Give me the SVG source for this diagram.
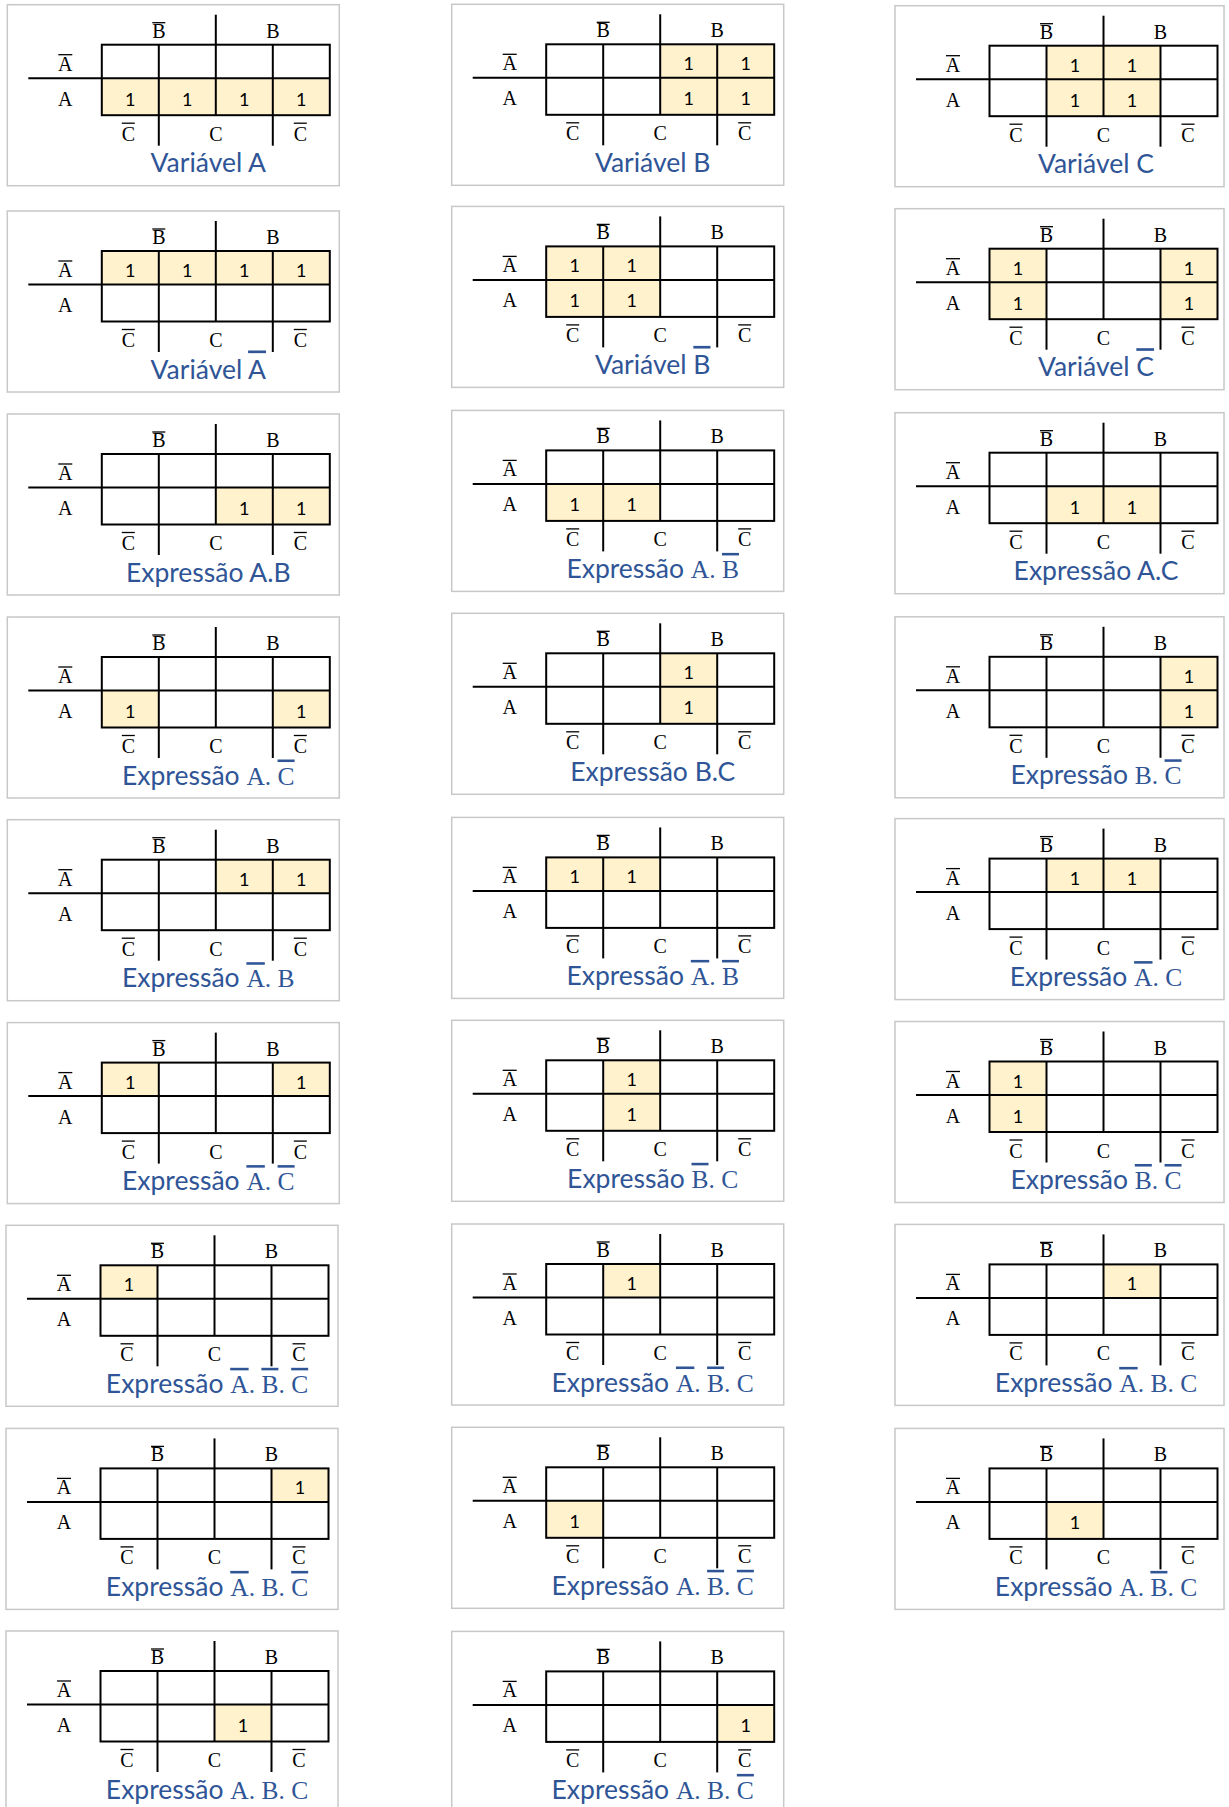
<svg xmlns="http://www.w3.org/2000/svg" xmlns:xlink="http://www.w3.org/1999/xlink" width="1229" height="1807" viewBox="0 0 1229 1807">
<style>
.frame{fill:#fff;stroke:#C8C8C8;stroke-width:1.5}
.hl{fill:#FFF2CC}
.g line,.g rect{stroke:#000;stroke-width:2;fill:none}
.g .bar{stroke-width:1.3}
.lbl{font-family:"Liberation Serif",serif;font-size:20px;text-anchor:middle;fill:#000}
.one{font-family:Lato,"Liberation Sans",sans-serif;font-size:18px;text-anchor:middle;fill:#000}
.cap{font-family:Lato,"Liberation Sans",sans-serif;font-size:26.5px;text-anchor:middle;fill:#2F5597}
.m{font-family:"Liberation Serif",serif;font-size:25.5px}
.ov{text-decoration:overline}
</style>
<defs>
<g id="grid" class="g">
<rect x="94.5" y="40" width="228" height="70.5"/>
<line x1="21" y1="73.5" x2="322.5" y2="73.5"/>
<line x1="151.5" y1="40" x2="151.5" y2="141"/>
<line x1="208.5" y1="10" x2="208.5" y2="110.5"/>
<line x1="265.5" y1="40" x2="265.5" y2="141"/>
<line class="bar" x1="145" y1="18" x2="158" y2="18"/>
<line class="bar" x1="51" y1="50" x2="65" y2="50"/>
<line class="bar" x1="114.5" y1="118.5" x2="127.5" y2="118.5"/>
<line class="bar" x1="286.5" y1="118.5" x2="299.5" y2="118.5"/>
</g>
</defs>

<g id="r0c0" transform="translate(7.3,4.7)">
<rect class="frame" width="332" height="181"/>
<rect class="hl" x="94.5" y="73.5" width="228" height="37"/>
<use href="#grid"/>
<text class="lbl" x="151.5" y="33">B</text><text class="lbl" x="265.5" y="33">B</text><text class="lbl" x="58" y="66">A</text><text class="lbl" x="58" y="101">A</text><text class="lbl" x="121" y="136">C</text><text class="lbl" x="208.5" y="136">C</text><text class="lbl" x="293" y="136">C</text>
<text class="one" x="123" y="101">1</text><text class="one" x="180" y="101">1</text><text class="one" x="237" y="101">1</text><text class="one" x="294" y="101">1</text>
<text class="cap" x="201" y="167.5">Variável A</text>
</g>

<g id="r0c1" transform="translate(451.7,4.3)">
<rect class="frame" width="332" height="181"/>
<rect class="hl" x="208.5" y="40" width="114" height="70.5"/>
<use href="#grid"/>
<text class="lbl" x="151.5" y="33">B</text><text class="lbl" x="265.5" y="33">B</text><text class="lbl" x="58" y="66">A</text><text class="lbl" x="58" y="101">A</text><text class="lbl" x="121" y="136">C</text><text class="lbl" x="208.5" y="136">C</text><text class="lbl" x="293" y="136">C</text>
<text class="one" x="237" y="66">1</text><text class="one" x="294" y="66">1</text><text class="one" x="237" y="101">1</text><text class="one" x="294" y="101">1</text>
<text class="cap" x="201" y="167.5">Variável B</text>
</g>

<g id="r0c2" transform="translate(895,5.7)">
<rect class="frame" width="329" height="181"/>
<rect class="hl" x="151.5" y="40" width="114" height="70.5"/>
<use href="#grid"/>
<text class="lbl" x="151.5" y="33">B</text><text class="lbl" x="265.5" y="33">B</text><text class="lbl" x="58" y="66">A</text><text class="lbl" x="58" y="101">A</text><text class="lbl" x="121" y="136">C</text><text class="lbl" x="208.5" y="136">C</text><text class="lbl" x="293" y="136">C</text>
<text class="one" x="180" y="66">1</text><text class="one" x="237" y="66">1</text><text class="one" x="180" y="101">1</text><text class="one" x="237" y="101">1</text>
<text class="cap" x="201" y="167.5">Variável C</text>
</g>

<g id="r1c0" transform="translate(7.3,211)">
<rect class="frame" width="332" height="181"/>
<rect class="hl" x="94.5" y="40" width="228" height="33.5"/>
<use href="#grid"/>
<text class="lbl" x="151.5" y="33">B</text><text class="lbl" x="265.5" y="33">B</text><text class="lbl" x="58" y="66">A</text><text class="lbl" x="58" y="101">A</text><text class="lbl" x="121" y="136">C</text><text class="lbl" x="208.5" y="136">C</text><text class="lbl" x="293" y="136">C</text>
<text class="one" x="123" y="66">1</text><text class="one" x="180" y="66">1</text><text class="one" x="237" y="66">1</text><text class="one" x="294" y="66">1</text>
<text class="cap" x="201" y="167.5">Variável <tspan class="ov">A</tspan></text>
</g>

<g id="r1c1" transform="translate(451.7,206.4)">
<rect class="frame" width="332" height="181"/>
<rect class="hl" x="94.5" y="40" width="114" height="70.5"/>
<use href="#grid"/>
<text class="lbl" x="151.5" y="33">B</text><text class="lbl" x="265.5" y="33">B</text><text class="lbl" x="58" y="66">A</text><text class="lbl" x="58" y="101">A</text><text class="lbl" x="121" y="136">C</text><text class="lbl" x="208.5" y="136">C</text><text class="lbl" x="293" y="136">C</text>
<text class="one" x="123" y="66">1</text><text class="one" x="180" y="66">1</text><text class="one" x="123" y="101">1</text><text class="one" x="180" y="101">1</text>
<text class="cap" x="201" y="167.5">Variável <tspan class="ov">B</tspan></text>
</g>

<g id="r1c2" transform="translate(895,208.7)">
<rect class="frame" width="329" height="181"/>
<rect class="hl" x="94.5" y="40" width="57" height="70.5"/>
<rect class="hl" x="265.5" y="40" width="57" height="70.5"/>
<use href="#grid"/>
<text class="lbl" x="151.5" y="33">B</text><text class="lbl" x="265.5" y="33">B</text><text class="lbl" x="58" y="66">A</text><text class="lbl" x="58" y="101">A</text><text class="lbl" x="121" y="136">C</text><text class="lbl" x="208.5" y="136">C</text><text class="lbl" x="293" y="136">C</text>
<text class="one" x="123" y="66">1</text><text class="one" x="294" y="66">1</text><text class="one" x="123" y="101">1</text><text class="one" x="294" y="101">1</text>
<text class="cap" x="201" y="167.5">Variável <tspan class="ov">C</tspan></text>
</g>

<g id="r2c0" transform="translate(7.3,414)">
<rect class="frame" width="332" height="181"/>
<rect class="hl" x="208.5" y="73.5" width="114" height="37"/>
<use href="#grid"/>
<text class="lbl" x="151.5" y="33">B</text><text class="lbl" x="265.5" y="33">B</text><text class="lbl" x="58" y="66">A</text><text class="lbl" x="58" y="101">A</text><text class="lbl" x="121" y="136">C</text><text class="lbl" x="208.5" y="136">C</text><text class="lbl" x="293" y="136">C</text>
<text class="one" x="237" y="101">1</text><text class="one" x="294" y="101">1</text>
<text class="cap" x="201" y="167.5">Expressão A.B</text>
</g>

<g id="r2c1" transform="translate(451.7,410.4)">
<rect class="frame" width="332" height="181"/>
<rect class="hl" x="94.5" y="73.5" width="114" height="37"/>
<use href="#grid"/>
<text class="lbl" x="151.5" y="33">B</text><text class="lbl" x="265.5" y="33">B</text><text class="lbl" x="58" y="66">A</text><text class="lbl" x="58" y="101">A</text><text class="lbl" x="121" y="136">C</text><text class="lbl" x="208.5" y="136">C</text><text class="lbl" x="293" y="136">C</text>
<text class="one" x="123" y="101">1</text><text class="one" x="180" y="101">1</text>
<text class="cap" x="201" y="167.5">Expressão <tspan class="m">A. <tspan class="ov">B</tspan></tspan></text>
</g>

<g id="r2c2" transform="translate(895,412.7)">
<rect class="frame" width="329" height="181"/>
<rect class="hl" x="151.5" y="73.5" width="114" height="37"/>
<use href="#grid"/>
<text class="lbl" x="151.5" y="33">B</text><text class="lbl" x="265.5" y="33">B</text><text class="lbl" x="58" y="66">A</text><text class="lbl" x="58" y="101">A</text><text class="lbl" x="121" y="136">C</text><text class="lbl" x="208.5" y="136">C</text><text class="lbl" x="293" y="136">C</text>
<text class="one" x="180" y="101">1</text><text class="one" x="237" y="101">1</text>
<text class="cap" x="201" y="167.5">Expressão A.C</text>
</g>

<g id="r3c0" transform="translate(7.3,617)">
<rect class="frame" width="332" height="181"/>
<rect class="hl" x="94.5" y="73.5" width="57" height="37"/>
<rect class="hl" x="265.5" y="73.5" width="57" height="37"/>
<use href="#grid"/>
<text class="lbl" x="151.5" y="33">B</text><text class="lbl" x="265.5" y="33">B</text><text class="lbl" x="58" y="66">A</text><text class="lbl" x="58" y="101">A</text><text class="lbl" x="121" y="136">C</text><text class="lbl" x="208.5" y="136">C</text><text class="lbl" x="293" y="136">C</text>
<text class="one" x="123" y="101">1</text><text class="one" x="294" y="101">1</text>
<text class="cap" x="201" y="167.5">Expressão <tspan class="m">A. <tspan class="ov">C</tspan></tspan></text>
</g>

<g id="r3c1" transform="translate(451.7,613.3)">
<rect class="frame" width="332" height="181"/>
<rect class="hl" x="208.5" y="40" width="57" height="70.5"/>
<use href="#grid"/>
<text class="lbl" x="151.5" y="33">B</text><text class="lbl" x="265.5" y="33">B</text><text class="lbl" x="58" y="66">A</text><text class="lbl" x="58" y="101">A</text><text class="lbl" x="121" y="136">C</text><text class="lbl" x="208.5" y="136">C</text><text class="lbl" x="293" y="136">C</text>
<text class="one" x="237" y="66">1</text><text class="one" x="237" y="101">1</text>
<text class="cap" x="201" y="167.5">Expressão B.C</text>
</g>

<g id="r3c2" transform="translate(895,616.8)">
<rect class="frame" width="329" height="181"/>
<rect class="hl" x="265.5" y="40" width="57" height="70.5"/>
<use href="#grid"/>
<text class="lbl" x="151.5" y="33">B</text><text class="lbl" x="265.5" y="33">B</text><text class="lbl" x="58" y="66">A</text><text class="lbl" x="58" y="101">A</text><text class="lbl" x="121" y="136">C</text><text class="lbl" x="208.5" y="136">C</text><text class="lbl" x="293" y="136">C</text>
<text class="one" x="294" y="66">1</text><text class="one" x="294" y="101">1</text>
<text class="cap" x="201" y="167.5">Expressão <tspan class="m">B. <tspan class="ov">C</tspan></tspan></text>
</g>

<g id="r4c0" transform="translate(7.3,819.7)">
<rect class="frame" width="332" height="181"/>
<rect class="hl" x="208.5" y="40" width="114" height="33.5"/>
<use href="#grid"/>
<text class="lbl" x="151.5" y="33">B</text><text class="lbl" x="265.5" y="33">B</text><text class="lbl" x="58" y="66">A</text><text class="lbl" x="58" y="101">A</text><text class="lbl" x="121" y="136">C</text><text class="lbl" x="208.5" y="136">C</text><text class="lbl" x="293" y="136">C</text>
<text class="one" x="237" y="66">1</text><text class="one" x="294" y="66">1</text>
<text class="cap" x="201" y="167.5">Expressão <tspan class="m"><tspan class="ov">A</tspan>. B</tspan></text>
</g>

<g id="r4c1" transform="translate(451.7,817.4)">
<rect class="frame" width="332" height="181"/>
<rect class="hl" x="94.5" y="40" width="114" height="33.5"/>
<use href="#grid"/>
<text class="lbl" x="151.5" y="33">B</text><text class="lbl" x="265.5" y="33">B</text><text class="lbl" x="58" y="66">A</text><text class="lbl" x="58" y="101">A</text><text class="lbl" x="121" y="136">C</text><text class="lbl" x="208.5" y="136">C</text><text class="lbl" x="293" y="136">C</text>
<text class="one" x="123" y="66">1</text><text class="one" x="180" y="66">1</text>
<text class="cap" x="201" y="167.5">Expressão <tspan class="m"><tspan class="ov">A</tspan>. <tspan class="ov">B</tspan></tspan></text>
</g>

<g id="r4c2" transform="translate(895,818.6)">
<rect class="frame" width="329" height="181"/>
<rect class="hl" x="151.5" y="40" width="114" height="33.5"/>
<use href="#grid"/>
<text class="lbl" x="151.5" y="33">B</text><text class="lbl" x="265.5" y="33">B</text><text class="lbl" x="58" y="66">A</text><text class="lbl" x="58" y="101">A</text><text class="lbl" x="121" y="136">C</text><text class="lbl" x="208.5" y="136">C</text><text class="lbl" x="293" y="136">C</text>
<text class="one" x="180" y="66">1</text><text class="one" x="237" y="66">1</text>
<text class="cap" x="201" y="167.5">Expressão <tspan class="m"><tspan class="ov">A</tspan>. C</tspan></text>
</g>

<g id="r5c0" transform="translate(7.3,1022.6)">
<rect class="frame" width="332" height="181"/>
<rect class="hl" x="94.5" y="40" width="57" height="33.5"/>
<rect class="hl" x="265.5" y="40" width="57" height="33.5"/>
<use href="#grid"/>
<text class="lbl" x="151.5" y="33">B</text><text class="lbl" x="265.5" y="33">B</text><text class="lbl" x="58" y="66">A</text><text class="lbl" x="58" y="101">A</text><text class="lbl" x="121" y="136">C</text><text class="lbl" x="208.5" y="136">C</text><text class="lbl" x="293" y="136">C</text>
<text class="one" x="123" y="66">1</text><text class="one" x="294" y="66">1</text>
<text class="cap" x="201" y="167.5">Expressão <tspan class="m"><tspan class="ov">A</tspan>. <tspan class="ov">C</tspan></tspan></text>
</g>

<g id="r5c1" transform="translate(451.7,1020.3)">
<rect class="frame" width="332" height="181"/>
<rect class="hl" x="151.5" y="40" width="57" height="70.5"/>
<use href="#grid"/>
<text class="lbl" x="151.5" y="33">B</text><text class="lbl" x="265.5" y="33">B</text><text class="lbl" x="58" y="66">A</text><text class="lbl" x="58" y="101">A</text><text class="lbl" x="121" y="136">C</text><text class="lbl" x="208.5" y="136">C</text><text class="lbl" x="293" y="136">C</text>
<text class="one" x="180" y="66">1</text><text class="one" x="180" y="101">1</text>
<text class="cap" x="201" y="167.5">Expressão <tspan class="m"><tspan class="ov">B</tspan>. C</tspan></text>
</g>

<g id="r5c2" transform="translate(895,1021.5)">
<rect class="frame" width="329" height="181"/>
<rect class="hl" x="94.5" y="40" width="57" height="70.5"/>
<use href="#grid"/>
<text class="lbl" x="151.5" y="33">B</text><text class="lbl" x="265.5" y="33">B</text><text class="lbl" x="58" y="66">A</text><text class="lbl" x="58" y="101">A</text><text class="lbl" x="121" y="136">C</text><text class="lbl" x="208.5" y="136">C</text><text class="lbl" x="293" y="136">C</text>
<text class="one" x="123" y="66">1</text><text class="one" x="123" y="101">1</text>
<text class="cap" x="201" y="167.5">Expressão <tspan class="m"><tspan class="ov">B</tspan>. <tspan class="ov">C</tspan></tspan></text>
</g>

<g id="r6c0" transform="translate(6,1225.3)">
<rect class="frame" width="332" height="181"/>
<rect class="hl" x="94.5" y="40" width="57" height="33.5"/>
<use href="#grid"/>
<text class="lbl" x="151.5" y="33">B</text><text class="lbl" x="265.5" y="33">B</text><text class="lbl" x="58" y="66">A</text><text class="lbl" x="58" y="101">A</text><text class="lbl" x="121" y="136">C</text><text class="lbl" x="208.5" y="136">C</text><text class="lbl" x="293" y="136">C</text>
<text class="one" x="123" y="66">1</text>
<text class="cap" x="201" y="167.5">Expressão <tspan class="m"><tspan class="ov">A</tspan>. <tspan class="ov">B</tspan>. <tspan class="ov">C</tspan></tspan></text>
</g>

<g id="r6c1" transform="translate(451.7,1224)">
<rect class="frame" width="332" height="181"/>
<rect class="hl" x="151.5" y="40" width="57" height="33.5"/>
<use href="#grid"/>
<text class="lbl" x="151.5" y="33">B</text><text class="lbl" x="265.5" y="33">B</text><text class="lbl" x="58" y="66">A</text><text class="lbl" x="58" y="101">A</text><text class="lbl" x="121" y="136">C</text><text class="lbl" x="208.5" y="136">C</text><text class="lbl" x="293" y="136">C</text>
<text class="one" x="180" y="66">1</text>
<text class="cap" x="201" y="167.5">Expressão <tspan class="m"><tspan class="ov">A</tspan>. <tspan class="ov">B</tspan>. C</tspan></text>
</g>

<g id="r6c2" transform="translate(895,1224.4)">
<rect class="frame" width="329" height="181"/>
<rect class="hl" x="208.5" y="40" width="57" height="33.5"/>
<use href="#grid"/>
<text class="lbl" x="151.5" y="33">B</text><text class="lbl" x="265.5" y="33">B</text><text class="lbl" x="58" y="66">A</text><text class="lbl" x="58" y="101">A</text><text class="lbl" x="121" y="136">C</text><text class="lbl" x="208.5" y="136">C</text><text class="lbl" x="293" y="136">C</text>
<text class="one" x="237" y="66">1</text>
<text class="cap" x="201" y="167.5">Expressão <tspan class="m"><tspan class="ov">A</tspan>. B. C</tspan></text>
</g>

<g id="r7c0" transform="translate(6,1428.4)">
<rect class="frame" width="332" height="181"/>
<rect class="hl" x="265.5" y="40" width="57" height="33.5"/>
<use href="#grid"/>
<text class="lbl" x="151.5" y="33">B</text><text class="lbl" x="265.5" y="33">B</text><text class="lbl" x="58" y="66">A</text><text class="lbl" x="58" y="101">A</text><text class="lbl" x="121" y="136">C</text><text class="lbl" x="208.5" y="136">C</text><text class="lbl" x="293" y="136">C</text>
<text class="one" x="294" y="66">1</text>
<text class="cap" x="201" y="167.5">Expressão <tspan class="m"><tspan class="ov">A</tspan>. B. <tspan class="ov">C</tspan></tspan></text>
</g>

<g id="r7c1" transform="translate(451.7,1427.3)">
<rect class="frame" width="332" height="181"/>
<rect class="hl" x="94.5" y="73.5" width="57" height="37"/>
<use href="#grid"/>
<text class="lbl" x="151.5" y="33">B</text><text class="lbl" x="265.5" y="33">B</text><text class="lbl" x="58" y="66">A</text><text class="lbl" x="58" y="101">A</text><text class="lbl" x="121" y="136">C</text><text class="lbl" x="208.5" y="136">C</text><text class="lbl" x="293" y="136">C</text>
<text class="one" x="123" y="101">1</text>
<text class="cap" x="201" y="167.5">Expressão <tspan class="m">A. <tspan class="ov">B</tspan>. <tspan class="ov">C</tspan></tspan></text>
</g>

<g id="r7c2" transform="translate(895,1428.4)">
<rect class="frame" width="329" height="181"/>
<rect class="hl" x="151.5" y="73.5" width="57" height="37"/>
<use href="#grid"/>
<text class="lbl" x="151.5" y="33">B</text><text class="lbl" x="265.5" y="33">B</text><text class="lbl" x="58" y="66">A</text><text class="lbl" x="58" y="101">A</text><text class="lbl" x="121" y="136">C</text><text class="lbl" x="208.5" y="136">C</text><text class="lbl" x="293" y="136">C</text>
<text class="one" x="180" y="101">1</text>
<text class="cap" x="201" y="167.5">Expressão <tspan class="m">A. <tspan class="ov">B</tspan>. C</tspan></text>
</g>

<g id="r8c0" transform="translate(6,1631)">
<rect class="frame" width="332" height="181"/>
<rect class="hl" x="208.5" y="73.5" width="57" height="37"/>
<use href="#grid"/>
<text class="lbl" x="151.5" y="33">B</text><text class="lbl" x="265.5" y="33">B</text><text class="lbl" x="58" y="66">A</text><text class="lbl" x="58" y="101">A</text><text class="lbl" x="121" y="136">C</text><text class="lbl" x="208.5" y="136">C</text><text class="lbl" x="293" y="136">C</text>
<text class="one" x="237" y="101">1</text>
<text class="cap" x="201" y="167.5">Expressão <tspan class="m">A. B. C</tspan></text>
</g>

<g id="r8c1" transform="translate(451.7,1631.4)">
<rect class="frame" width="332" height="181"/>
<rect class="hl" x="265.5" y="73.5" width="57" height="37"/>
<use href="#grid"/>
<text class="lbl" x="151.5" y="33">B</text><text class="lbl" x="265.5" y="33">B</text><text class="lbl" x="58" y="66">A</text><text class="lbl" x="58" y="101">A</text><text class="lbl" x="121" y="136">C</text><text class="lbl" x="208.5" y="136">C</text><text class="lbl" x="293" y="136">C</text>
<text class="one" x="294" y="101">1</text>
<text class="cap" x="201" y="167.5">Expressão <tspan class="m">A. B. <tspan class="ov">C</tspan></tspan></text>
</g>

<g id="connectors"/>
</svg>
